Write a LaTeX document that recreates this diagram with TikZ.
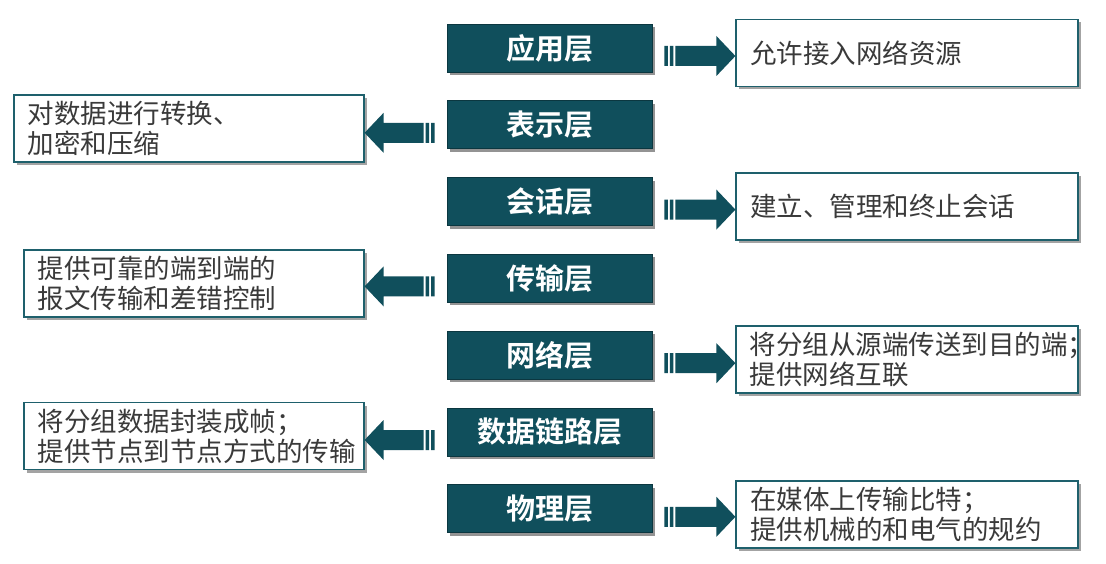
\documentclass[tikz,border=0pt]{standalone}
\usepackage{fontspec}
\setmainfont{Noto Sans CJK SC}[BoldFont={Noto Sans CJK SC Bold}]
\usetikzlibrary{calc}
\usetikzlibrary{positioning}
\usetikzlibrary{shadows}
\definecolor{layerteal}{RGB}{16,79,92}
\definecolor{edgeteal}{RGB}{30,96,108}
\definecolor{descgray}{RGB}{58,58,58}
\tikzstyle{layer}=[fill=layerteal,draw=layerteal!70!black,line width=0.8pt,minimum width=205pt,minimum height=48pt,
  text=white,font=\fontsize{29pt}{32pt}\selectfont\bfseries,drop shadow={shadow xshift=3pt,shadow yshift=-3pt,fill=black!60,opacity=0.7}]
\tikzstyle{descbox}=[fill=white,draw=edgeteal,line width=1.8pt,minimum width=342pt,minimum height=67pt,
  drop shadow={shadow xshift=3pt,shadow yshift=-3pt,fill=black!60,opacity=0.6}]
\tikzstyle{desctext}=[text=descgray,font=\fontsize{26.5pt}{30pt}\selectfont,align=left,inner xsep=14pt,inner ysep=4pt]
\tikzstyle{arrowfill}=[fill=layerteal]
% block arrow with a striped tail, from node #1 (side #2) to node #3 (side #4)
\newcommand{\layerarrow}[4]{
  \coordinate (tail) at ($(#1.#2)!-12pt!(#1.center)$);
  \coordinate (tail) at ($(tail)+(0pt,-8pt)$);
  \coordinate (tip) at (tail -| #3.#4);
  \fill[arrowfill]
    ($(tail)+(0pt,10pt)$) rectangle ($(tail)!3.5pt!(tip)+(0pt,-10pt)$)
    ($(tail)!5.5pt!(tip)+(0pt,10pt)$) rectangle ($(tail)!9pt!(tip)+(0pt,-10pt)$)
    ($(tail)!11pt!(tip)+(0pt,10pt)$) -- ($(tip)!19pt!(tail)+(0pt,10pt)$) -- ($(tip)!19pt!(tail)+(0pt,20pt)$)
    -- (tip) -- ($(tip)!19pt!(tail)+(0pt,-20pt)$) -- ($(tip)!19pt!(tail)+(0pt,-10pt)$)
    -- ($(tail)!11pt!(tip)+(0pt,-10pt)$) -- cycle;
}
\begin{document}
\begin{tikzpicture}[x=1pt,y=-1pt]
	\useasboundingbox (0,0) rectangle (1106,564);
	\fill[white] (0,0) rectangle (1106,564);
	% the seven layers
	\node[layer] (app) at (549.5,48) {应用层};
	\node[layer,below=28pt of app] (pres) {表示层};
	\node[layer,below=28pt of pres] (sess) {会话层};
	\node[layer,below=28pt of sess] (trans) {传输层};
	\node[layer,below=28pt of trans] (net) {网络层};
	\node[layer,below=28pt of net] (link) {数据链路层};
	\node[layer,below=28pt of link] (phys) {物理层};
	% what each layer does
	\node[descbox,desctext,text width=314pt,right=83pt of app,yshift=-5pt] (appd) {允许接入网络资源};
	\node[descbox,desctext,minimum width=350pt,text width=322pt,left=82pt of pres,yshift=-4pt] (presd) {对数据进行转换、\\加密和压缩};
	\node[descbox,desctext,text width=314pt,right=83pt of sess,yshift=-5pt] (sessd) {建立、管理和终止会话};
	\node[descbox,desctext,minimum width=340pt,text width=312pt,left=82pt of trans,yshift=-5pt] (transd) {提供可靠的端到端的\\报文传输和差错控制};
	\node[descbox,right=83pt of net,yshift=-4pt] (netd) {};
	\begin{scope}
	\clip ([shift={(-1pt,1pt)}]netd.north east) rectangle ([shift={(1pt,-1pt)}]netd.south west);
	\node[desctext,text width=314pt,anchor=west] (netdtext) at (netd.west) {将分组从源端传送到目的端；\\提供网络互联};
	\end{scope}
	\node[descbox,desctext,minimum width=340pt,text width=312pt,left=82pt of link,yshift=-4pt] (linkd) {将分组数据封装成帧；\\提供节点到节点方式的传输};
	\node[descbox,desctext,text width=314pt,right=83pt of phys,yshift=-6pt] (physd) {在媒体上传输比特；\\提供机械的和电气的规约};
	% arrows
	\layerarrow{app}{east}{appd}{west}
	\layerarrow{pres}{west}{presd}{east}
	\layerarrow{sess}{east}{sessd}{west}
	\layerarrow{trans}{west}{transd}{east}
	\layerarrow{net}{east}{netd}{west}
	\layerarrow{link}{west}{linkd}{east}
	\layerarrow{phys}{east}{physd}{west}
\end{tikzpicture}
\end{document}
